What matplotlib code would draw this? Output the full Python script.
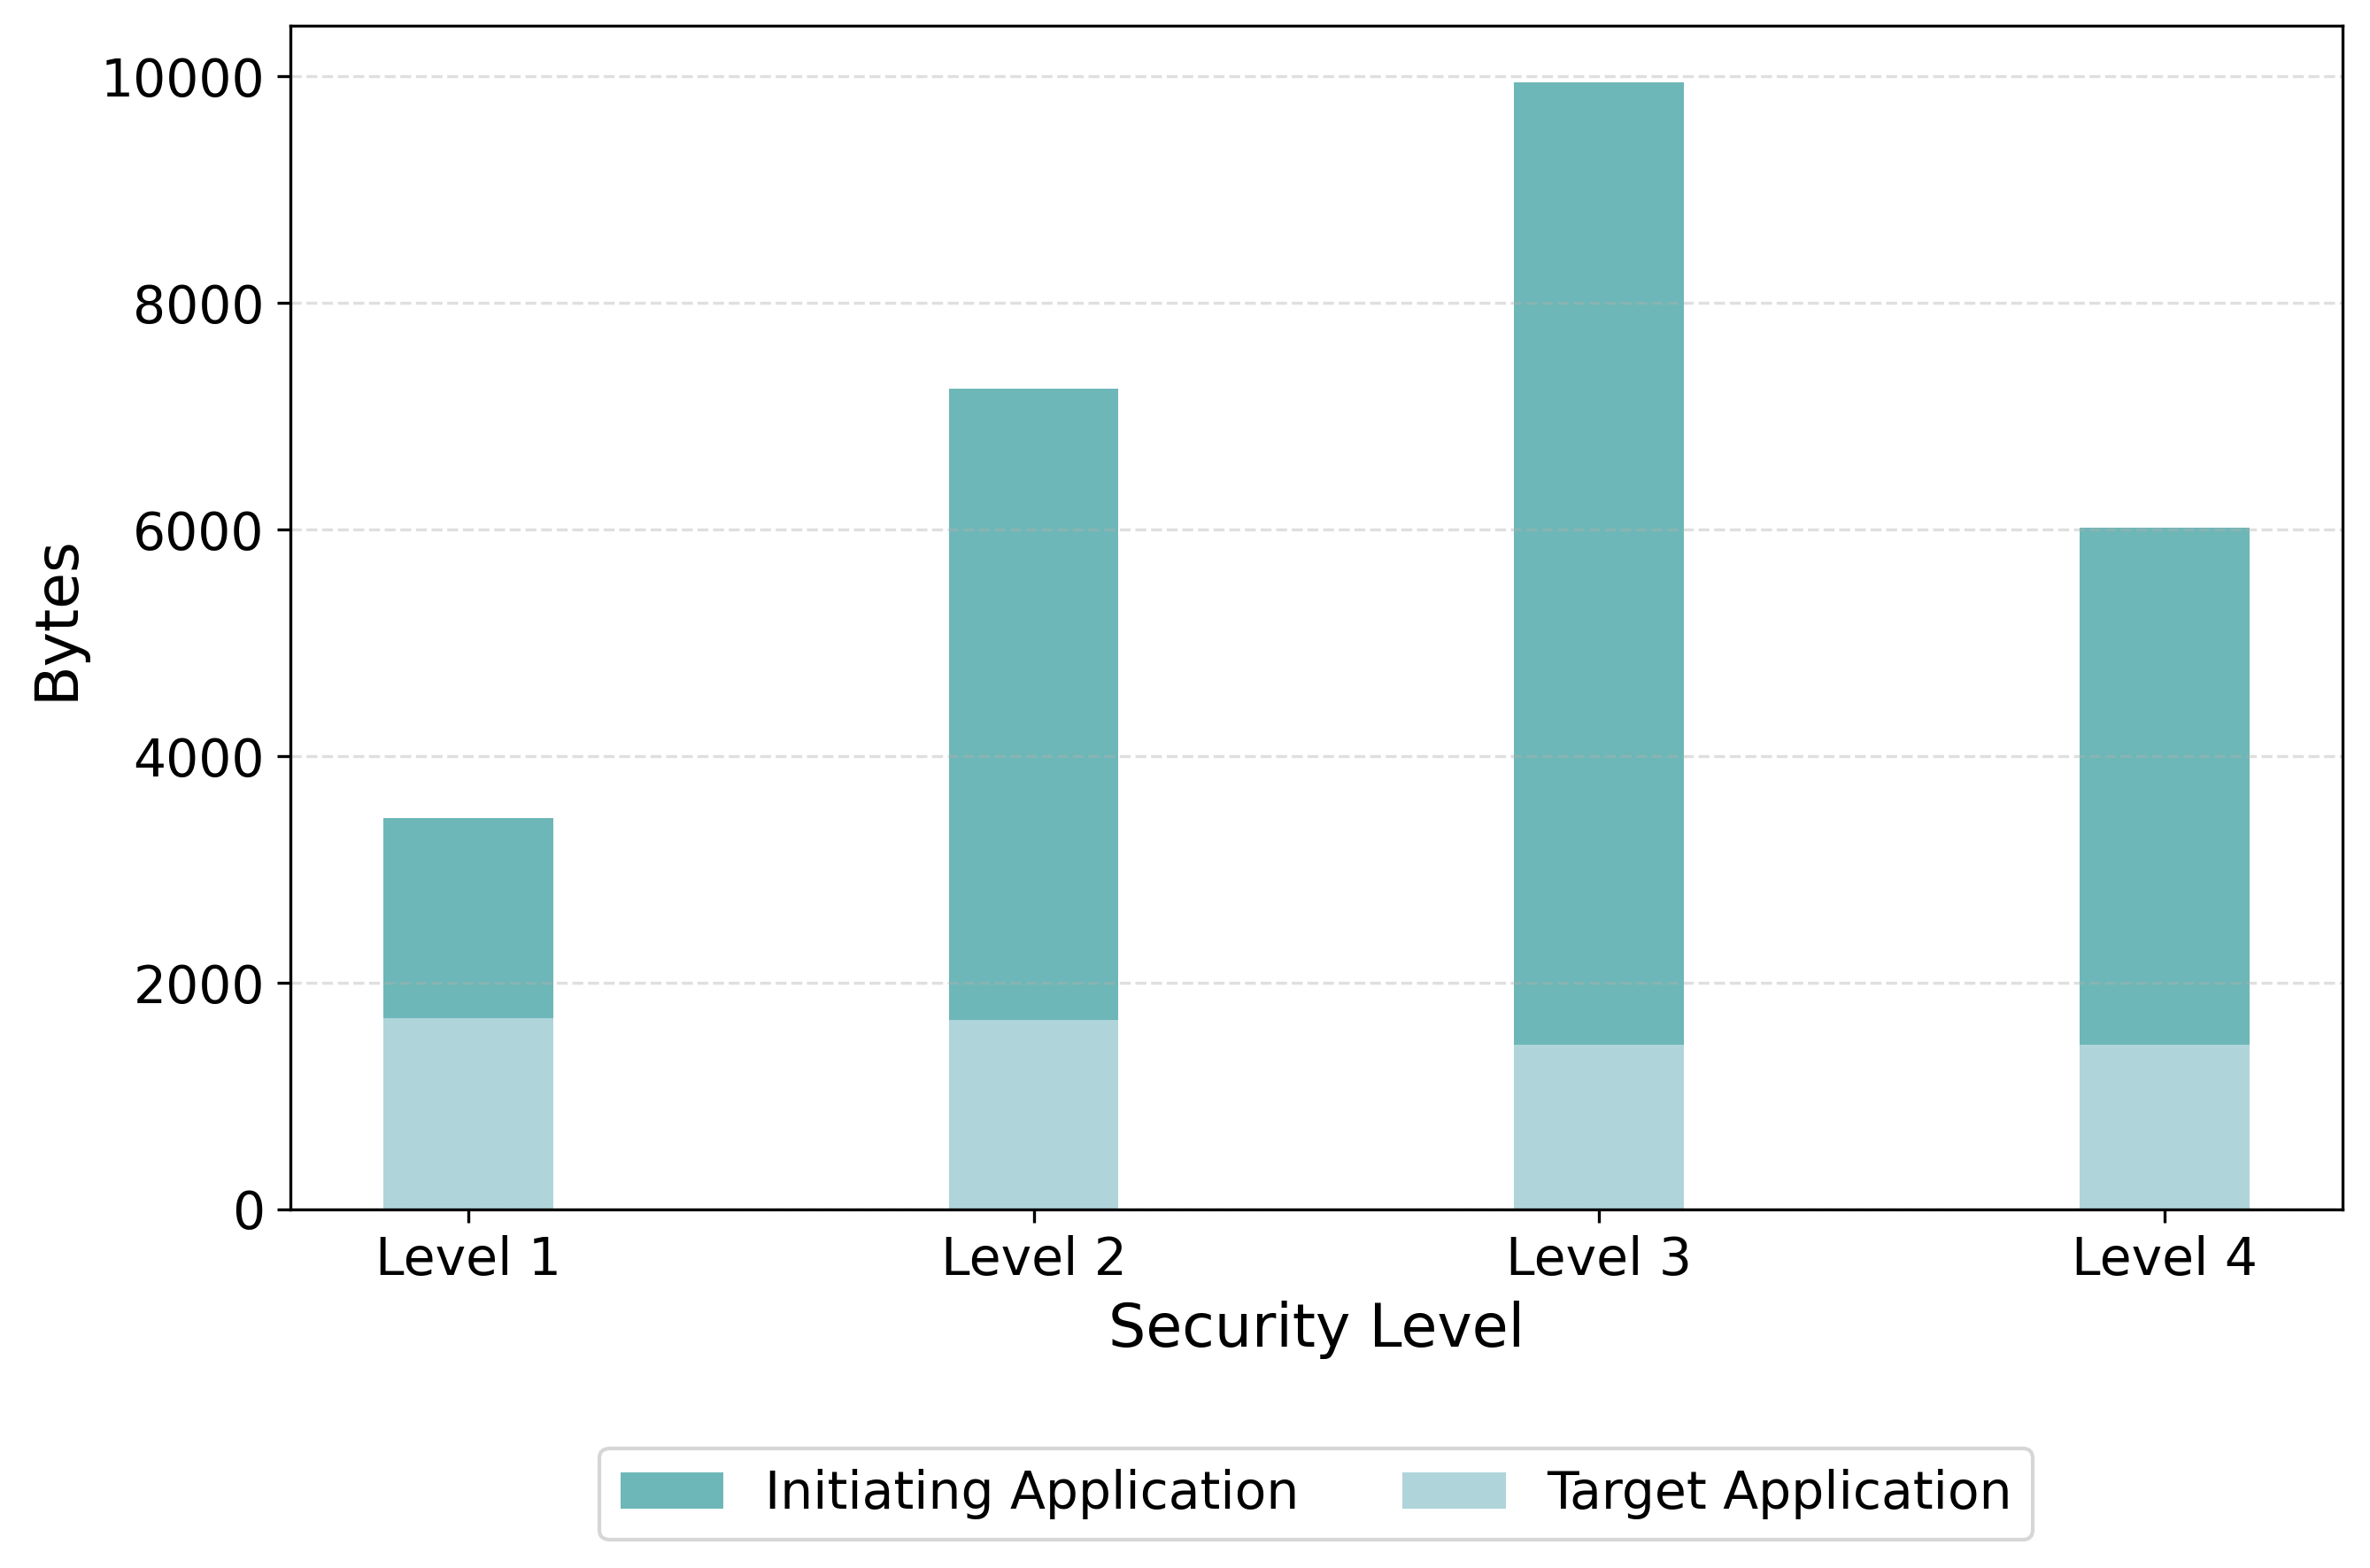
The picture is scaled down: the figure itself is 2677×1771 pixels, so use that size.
import matplotlib
matplotlib.use("Agg")
import matplotlib.pyplot as plt
import numpy as np

niveles = ['Level 1', 'Level 2', 'Level 3', 'Level 4']
target_app = [1690, 1670, 1455, 1455]
initiating_app = [1765, 5575, 8495, 4565]

color_init = '#6eb7b8'
color_target = '#afd5da'

x = np.arange(len(niveles))
ancho = 0.3

fig = plt.figure(figsize=(2677 / 300, 1771 / 300), dpi=300)
ax = fig.add_axes([0.1225, 0.2287, 0.8659, 0.7549])

ax.bar(x, target_app, ancho, color=color_target, label='Target Application')
ax.bar(x, initiating_app, ancho, bottom=target_app, color=color_init,
       label='Initiating Application')

ax.set_xticks(x)
ax.set_xticklabels(niveles, fontsize=14)
ax.tick_params(axis='y', labelsize=14)
ax.set_xlabel('Security Level', fontsize=16)
ax.set_ylabel('Bytes', fontsize=16)
ax.grid(axis='y', linestyle='--', alpha=0.4)

handles, labels = ax.get_legend_handles_labels()
ax.legend(handles[::-1], labels[::-1], loc='upper center',
          bbox_to_anchor=(0.5, -0.18), ncol=2, fontsize=14)

fig.savefig('out.png', dpi=300)
